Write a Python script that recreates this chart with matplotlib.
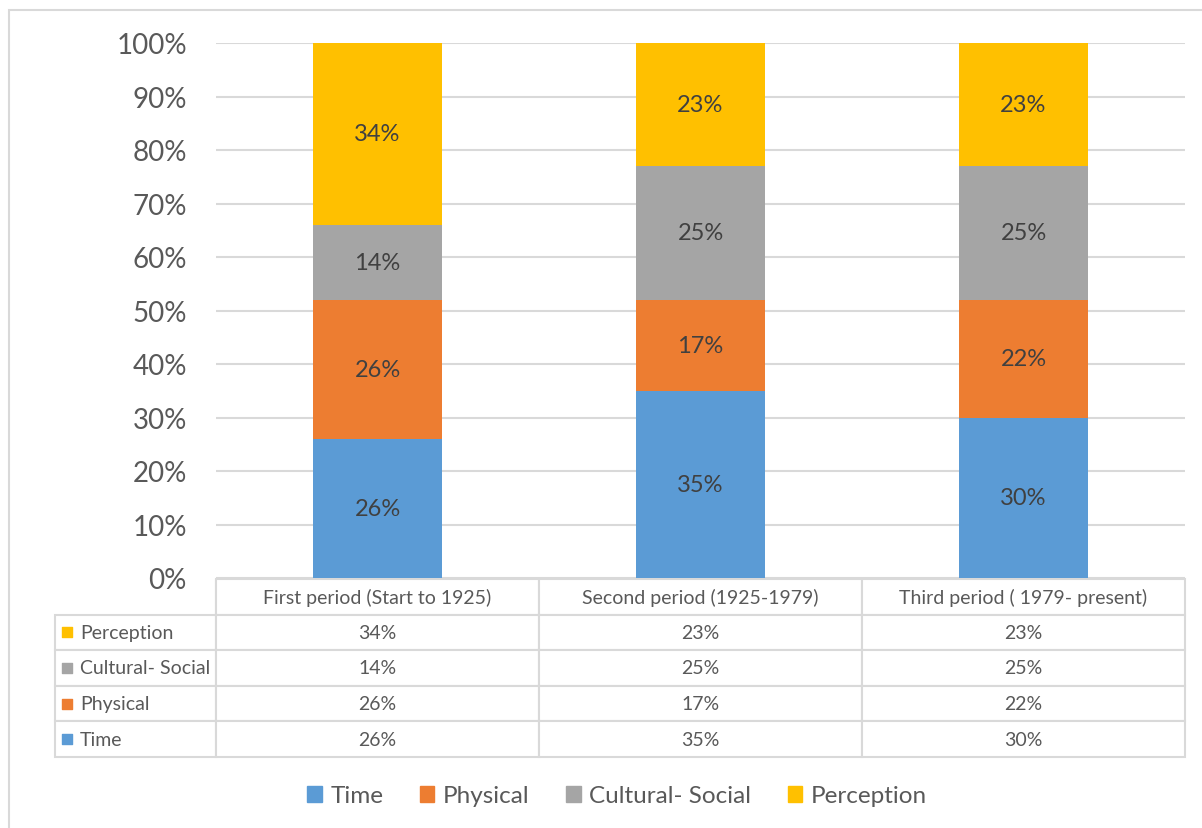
import matplotlib.pyplot as plt
from matplotlib.patches import Patch, Rectangle
from matplotlib.ticker import PercentFormatter

periods = ['First period (Start to 1925)', 'Second period (1925-1979)', 'Third period ( 1979- present)']
series = ['Time', 'Physical', 'Cultural- Social', 'Perception']
colors = ['#5B9BD5', '#ED7D31', '#A5A5A5', '#FFC000']
time = [26, 35, 30]
physical = [26, 17, 22]
cultural = [14, 25, 25]
perception = [34, 23, 23]
values = [time, physical, cultural, perception]

plt.rcParams['font.family'] = ['Lato', 'DejaVu Sans']
txt = '#595959'
W, H = 1202, 829

fig = plt.figure(figsize=(W / 100, H / 100), dpi=100)
ax = fig.add_axes([216 / W, 1 - 579 / H, (1185 - 216) / W, (579 - 44) / H])

x = range(len(periods))
bottom = [0, 0, 0]
for name, vals, c in zip(series, values, colors):
    frac = [v / 100 for v in vals]
    bars = ax.bar(x, frac, 0.4, bottom=bottom, color=c, zorder=3)
    ax.bar_label(bars, labels=['%d%%' % v for v in vals], label_type='center',
                 fontsize=17, color='#404040')
    bottom = [b + f for b, f in zip(bottom, frac)]

ax.set_xlim(-0.5, 2.5)
ax.set_ylim(0, 1)
ax.set_yticks([i / 10 for i in range(11)])
ax.yaxis.set_major_formatter(PercentFormatter(1.0, decimals=0))
ax.tick_params(axis='y', length=0, pad=21, labelsize=20, labelcolor=txt)
ax.set_xticks([])
ax.grid(axis='y', color='#d9d9d9', lw=1.5, zorder=0)
for s in ax.spines.values():
    s.set_visible(False)

# data table under the bars (first column holds the series names)
rows = series[::-1]
cell_text = [[n] + ['%d%%' % v for v in vals] for n, vals in zip(rows, values[::-1])]
axw = 1185 - 216
axh = 579 - 44
x0 = (55 - 216) / axw
y0 = (579 - 758) / axh
tw = (1185 - 55) / axw
th = (758 - 580) / axh
tbl = ax.table(cellText=cell_text, colLabels=[''] + periods,
               colWidths=[161 / axw] + [323 / axw] * 3,
               cellLoc='center', bbox=[x0, y0, tw, th])
tbl.auto_set_font_size(False)
tbl.set_fontsize(14)
for (r, c), cell in tbl.get_celld().items():
    cell.set_edgecolor('#d9d9d9')
    cell.set_linewidth(1.5)
    cell.get_text().set_color(txt)
    if c == 0:
        cell.PAD = 25 / 161
        cell.get_text().set_horizontalalignment('left')
        cell._loc = 'left'
        if r == 0:
            cell.visible_edges = 'R'

# colored keys in the row label cells
row_h = th / 5
for i, name in enumerate(rows):
    yc = y0 + th - row_h * (i + 1.5)
    ax.scatter([(67 - 216) / axw], [yc], marker='s', s=45,
               color=colors[series.index(name)], transform=ax.transAxes,
               clip_on=False, zorder=5)

handles = [Patch(color=c, label=n) for n, c in zip(series, colors)]
fig.legend(handles=handles, loc='center', bbox_to_anchor=(617 / W, 1 - 797 / H),
           ncol=4, frameon=False, fontsize=17.5, labelcolor=txt,
           handlelength=0.6, handleheight=0.6, handletextpad=0.35,
           columnspacing=1.5)

fig.patches.append(Rectangle((9 / W, -0.1), 1.2, 1.1 - 11 / H, transform=fig.transFigure,
                             fill=False, edgecolor='#d9d9d9', lw=1.5))

fig.savefig('out.png', dpi=100)
